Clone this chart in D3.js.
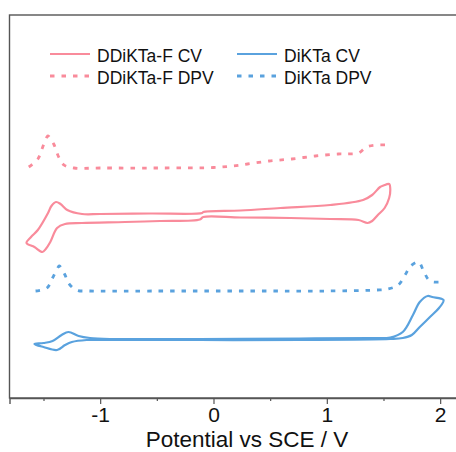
<html>
<body style="margin:0">
    <script src="https://cdn.jsdelivr.net/npm/d3@7"></script>
    <svg width="456" height="452"></svg>
    <script type="text/javascript">
    // potentials (V vs SCE) and offset currents (a.u.) for each trace
    var ddiktaF_dpv_v = [-1.63, -1.55, -1.51, -1.47, -1.46, -1.41, -1.37, -1.32, -1.23, -1.0, -0.5, 0.0, 0.17, 0.30, 0.49, 0.69, 0.90, 1.10, 1.18, 1.28, 1.35, 1.44, 1.54];
    var ddiktaF_dpv_i = [231, 239, 250, 261, 262, 254, 242, 233, 230, 230, 230, 230.5, 232, 234, 237, 239, 242, 244, 244, 245, 251, 253, 253];

    var ddiktaF_cv_v = [-0.09, 0.24, 0.68, 1.03, 1.28, 1.36, 1.40, 1.45, 1.51, 1.55, 1.56, 1.55, 1.50, 1.47, 1.40, 1.32, 1.03, 0.59, 0.24, -0.09, -0.10, -0.56, -1.0, -1.16, -1.29, -1.35, -1.39, -1.43, -1.46, -1.55, -1.61, -1.65, -1.58, -1.51, -1.48, -1.44, -1.38, -1.31, -1.16, -0.78, -0.47, -0.12];
    var ddiktaF_cv_i = [181, 180.5, 180, 179, 178, 175, 177, 183, 190, 200, 208, 214, 212.5, 211, 203, 198, 193, 190, 187.5, 186, 185, 184.5, 184, 184, 188, 194, 196, 192, 185, 168, 161, 155, 151, 146, 149, 156, 170, 174, 175, 176, 177, 178.5];

    var diKTa_dpv_v = [-1.57, -1.47, -1.42, -1.37, -1.36, -1.31, -1.28, -1.21, -1.09, -0.5, 0.0, 0.5, 1.0, 1.44, 1.54, 1.63, 1.69, 1.74, 1.81, 1.85, 1.91, 2.01];
    var diKTa_dpv_i = [107, 110, 120, 131, 132, 123, 115, 108, 107, 107, 107, 107, 107, 108, 109, 113, 123, 132, 136, 128, 117, 116];

    var diKTa_cv_v = [-1.58, -1.50, -1.42, -1.34, -1.28, -1.19, -1.09, -0.91, -0.12, 0.76, 1.38, 1.56, 1.67, 1.76, 1.82, 1.89, 1.93, 2.03, 1.99, 1.91, 1.82, 1.75, 1.67, 1.56, 0.76, -0.12, -1.0, -1.12, -1.25, -1.31, -1.38, -1.50];
    var diKTa_cv_i = [54, 55, 57, 63, 66, 62, 60, 59, 59, 59.5, 60, 60.5, 66, 83, 96, 102, 101, 98, 90, 81, 71, 63, 60, 59, 58, 58, 58, 58, 56, 53, 48, 51];

    var majorTicks = [-1, 0, 1, 2];
    var minorTicks = [-1.5, -0.5, 0.5, 1.5];

    var legendNames = ["DDiKTa-F CV", "DiKTa CV", "DDiKTa-F DPV", "DiKTa DPV"];
    var legendColors = ["#f98b9b", "#5aa2de", "#f98b9b", "#5aa2de"];
    var legendDashed = [false, false, true, true];

    var pink = "#f98b9b", blue = "#5aa2de";
    var font = "'Liberation Sans', Arial, sans-serif";

    var plotLeft = 9.5, plotTop = 15, plotBottom = 398;

    var svg = d3.select("svg");

    var x = d3.scaleLinear().domain([-1.8, 2.2]).range([plotLeft, plotLeft + 4 * 113.33]);
    var y = d3.scaleLinear().domain([0, 383]).range([plotBottom, plotTop]);

    function pts(vs, is) {
        return vs.map(function(v, k) { return [v, is[k]]; });
    }

    var openLine = d3.line()
        .x(function(d) { return x(d[0]); })
        .y(function(d) { return y(d[1]); })
        .curve(d3.curveCatmullRom.alpha(0.5));

    var loopLine = d3.line()
        .x(function(d) { return x(d[0]); })
        .y(function(d) { return y(d[1]); })
        .curve(d3.curveCatmullRomClosed.alpha(0.5));

    // frame (right edge runs off the page)
    svg.append("rect")
        .attr("x", plotLeft).attr("y", plotTop)
        .attr("width", x(2.2) - plotLeft).attr("height", plotBottom - plotTop)
        .attr("fill", "none").attr("stroke", "#555").attr("stroke-width", 1.4);

    // traces
    var traces = [
        {d: pts(ddiktaF_dpv_v, ddiktaF_dpv_i), c: pink, dash: true, loop: false},
        {d: pts(ddiktaF_cv_v, ddiktaF_cv_i), c: pink, dash: false, loop: true},
        {d: pts(diKTa_dpv_v, diKTa_dpv_i), c: blue, dash: true, loop: false},
        {d: pts(diKTa_cv_v, diKTa_cv_i), c: blue, dash: false, loop: true}
    ];

    svg.selectAll(".trace").data(traces).enter()
        .append("path")
        .attr("class", "trace")
        .attr("d", function(t) { return t.loop ? loopLine(t.d) : openLine(t.d); })
        .attr("fill", "none")
        .attr("stroke", function(t) { return t.c; })
        .attr("stroke-width", function(t) { return t.dash ? 2.8 : 2.2; })
        .attr("stroke-dasharray", function(t) { return t.dash ? "4.5,7" : null; })
        .attr("stroke-linejoin", "round");

    // bottom axis: labelled major ticks and short minor ones
    var axis = svg.append("g")
        .attr("transform", "translate(0," + plotBottom + ")")
        .call(d3.axisBottom(x).tickValues(majorTicks).tickSize(6).tickPadding(3).tickFormat(d3.format("d")));
    svg.append("g")
        .attr("transform", "translate(0," + plotBottom + ")")
        .call(d3.axisBottom(x).tickValues(minorTicks).tickSize(3).tickFormat(""))
        .call(function(g) { g.select(".domain").remove(); });

    svg.selectAll(".domain").attr("stroke", "#555").attr("stroke-width", 1.4);
    svg.selectAll(".tick line").attr("stroke", "#555").attr("stroke-width", 1.2);
    axis.selectAll("text")
        .attr("font-family", font).attr("font-size", 21).attr("fill", "#111")
        .text(function(d) { return d < 0 ? "-" + Math.abs(d) : d; });

    svg.append("text")
        .attr("x", 247).attr("y", 447)
        .attr("text-anchor", "middle")
        .attr("font-family", font).attr("font-size", 22.5).attr("fill", "#111")
        .text("Potential vs SCE / V");

    // legend, two columns
    var legend = svg.selectAll(".legend").data(legendNames).enter()
        .append("g")
        .attr("class", "legend")
        .attr("transform", function(d, k) {
            return "translate(" + (k % 2 ? 237 : 50) + "," + (k < 2 ? 54 : 76) + ")";
        });

    legend.append("line")
        .attr("x1", 0).attr("x2", 40).attr("y1", 0).attr("y2", 0)
        .attr("stroke", function(d, k) { return legendColors[k]; })
        .attr("stroke-width", function(d, k) { return legendDashed[k] ? 2.8 : 2.2; })
        .attr("stroke-dasharray", function(d, k) { return legendDashed[k] ? "4.5,7" : null; });

    legend.append("text")
        .attr("x", 47).attr("y", 7.5)
        .attr("font-family", font).attr("font-size", 17.5).attr("fill", "#111")
        .text(function(d) { return d; });
    </script>
</body>
</html>
